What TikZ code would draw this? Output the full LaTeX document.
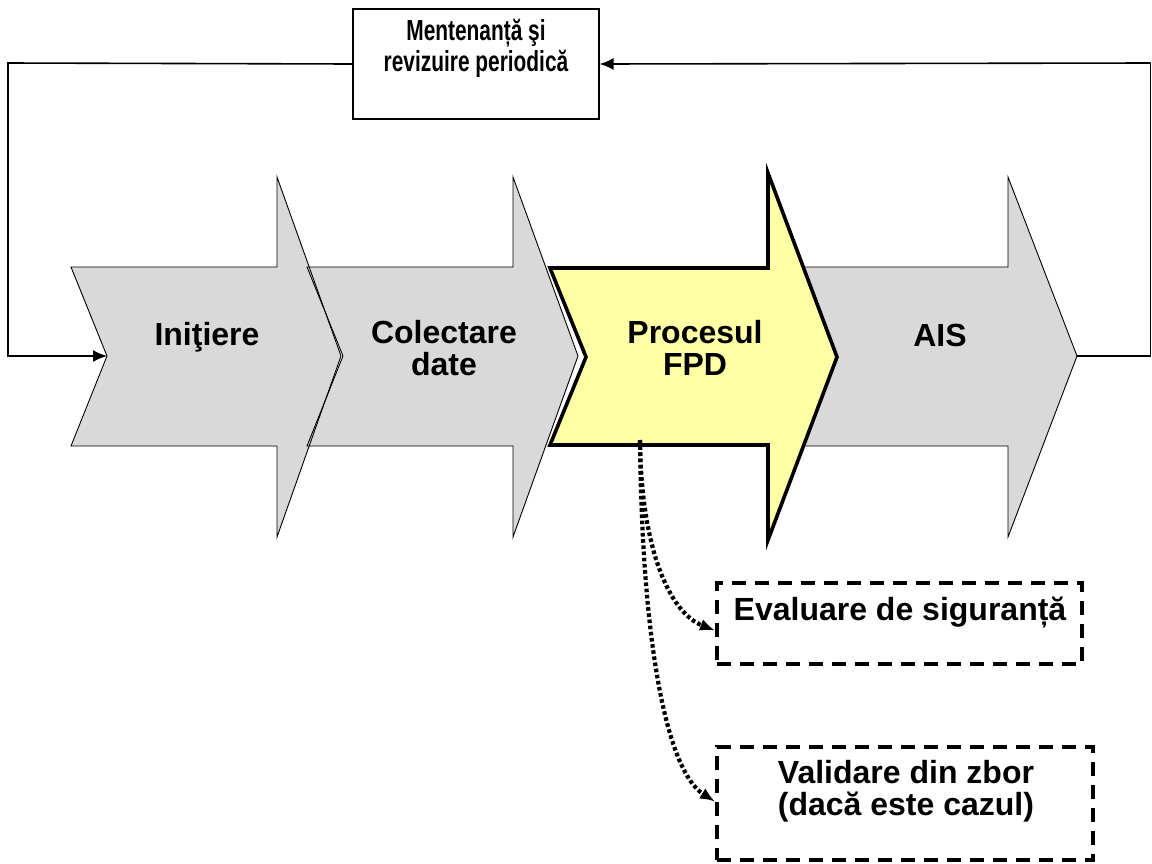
\documentclass[tikz,border=0pt]{standalone}
\usepackage{fontspec}
\setmainfont{Liberation Sans}
\newfontfamily\narrowfont[FakeStretch=0.72]{Liberation Sans}
\usetikzlibrary{arrows.meta,calc}
\definecolor{arrowgray}{HTML}{D9D9D9}
\definecolor{fpdyellow}{HTML}{FFFFA6}
\begin{document}
\begin{tikzpicture}[x=1pt,y=-1pt,
  lbl/.style={font=\bfseries\fontsize{32}{31.5}\selectfont, align=center, inner sep=0pt},
  toplbl/.style={font=\narrowfont\bfseries\fontsize{29}{31}\selectfont, align=center, inner sep=0pt},
  grayfill/.style={fill=arrowgray},
  grayline/.style={draw=black, line width=0.9pt, line join=miter},
  fpdshape/.style={fill=fpdyellow, draw=black, line width=3.6pt, line join=miter},
  link/.style={line width=1.6pt, -{Latex[length=14pt,width=12pt]}},
  plainlink/.style={line width=1.6pt},
  dots/.style={line width=4.2pt, dash pattern=on 3.6pt off 2.6pt, -{Latex[length=15pt,width=12pt]}},
  dashbox/.style={draw, line width=4pt, dash pattern=on 14pt off 9pt, inner sep=0pt},
  plainbox/.style={draw, line width=1.1pt, inner sep=0pt}
]
\useasboundingbox (0,0) rectangle (1152,863);

% gray arrow fills
\path[grayfill] (71,267) -- (277,267) -- (277,177) -- (341,356) -- (277,537) -- (277,446) -- (71,446) -- (107,356) -- cycle;
\path[grayfill] (307,267) -- (513,267) -- (513,177) -- (578,356) -- (513,537) -- (513,446) -- (307,446) -- (343,356) -- cycle;
\path[grayfill] (800,267) -- (1008,267) -- (1008,177) -- (1077,356) -- (1008,537) -- (1008,446) -- (800,446) -- (836,356) -- cycle;
% gray arrow outlines
\path[grayline] (71,267) -- (277,267) -- (277,177) -- (341,356) -- (277,537) -- (277,446) -- (71,446) -- (107,356) -- cycle;
\path[grayline] (307,267) -- (513,267) -- (513,177) -- (578,356) -- (513,537) -- (513,446) -- (307,446) -- (343,356) -- cycle;
\path[grayline] (800,267) -- (1008,267) -- (1008,177) -- (1077,356) -- (1008,537) -- (1008,446) -- (800,446) -- (836,356) -- cycle;
% highlighted arrow
\path[fpdshape] (550,268) -- (768,268) -- (768,173) -- (837,357) -- (768,540) -- (768,445) -- (550,445) -- (586,357) -- cycle;

\coordinate (initin) at (107,356);
\coordinate (aisout) at (1077,356);
\coordinate (fpdout) at (640,440);
\coordinate (rightedge) at (1150.5,356);
\coordinate (rightup) at (1150.5,63);
\coordinate (leftup) at (8,63);
\coordinate (leftdown) at (8,356);

\node[lbl] (initiere) at (207,337) {Iniţiere};
\node[lbl] (colectare) at (444,348) {Colectare\\date};
\node[lbl] (fpd) at (695,348) {Procesul\\FPD};
\node[lbl] (ais) at (940,335) {AIS};

\node[plainbox, minimum width=246pt, minimum height=110pt] (mbox) at (476,64) {};
\node[toplbl] (mtext) at (476,48) {Mentenanță şi\\revizuire periodică};

\node[dashbox, minimum width=365pt, minimum height=81pt] (eval) at (899.5,623.5) {};
\node[lbl] (evaltext) at (900,612) {Evaluare de siguranță};
\node[dashbox, minimum width=376pt, minimum height=113pt] (valid) at (905,803.5) {};
\node[lbl] (validtext) at (906,791) {Validare din zbor\\(dacă este cazul)};

% feedback loop
\draw[plainlink] (aisout) -- (rightedge) -- (rightup);
\draw[link] (rightup) -- (mbox.east);
\draw[link] (mbox.west) -- (leftup) -- (leftdown) -- (initin);

% dotted connectors
\draw[dots] (fpdout) .. controls (641,545) and (668,612) .. ($(eval.west)+(0,7)$);
\draw[dots] (fpdout) .. controls (642,650) and (668,772) .. ($(valid.west)+(0,-2)$);
\end{tikzpicture}
\end{document}
